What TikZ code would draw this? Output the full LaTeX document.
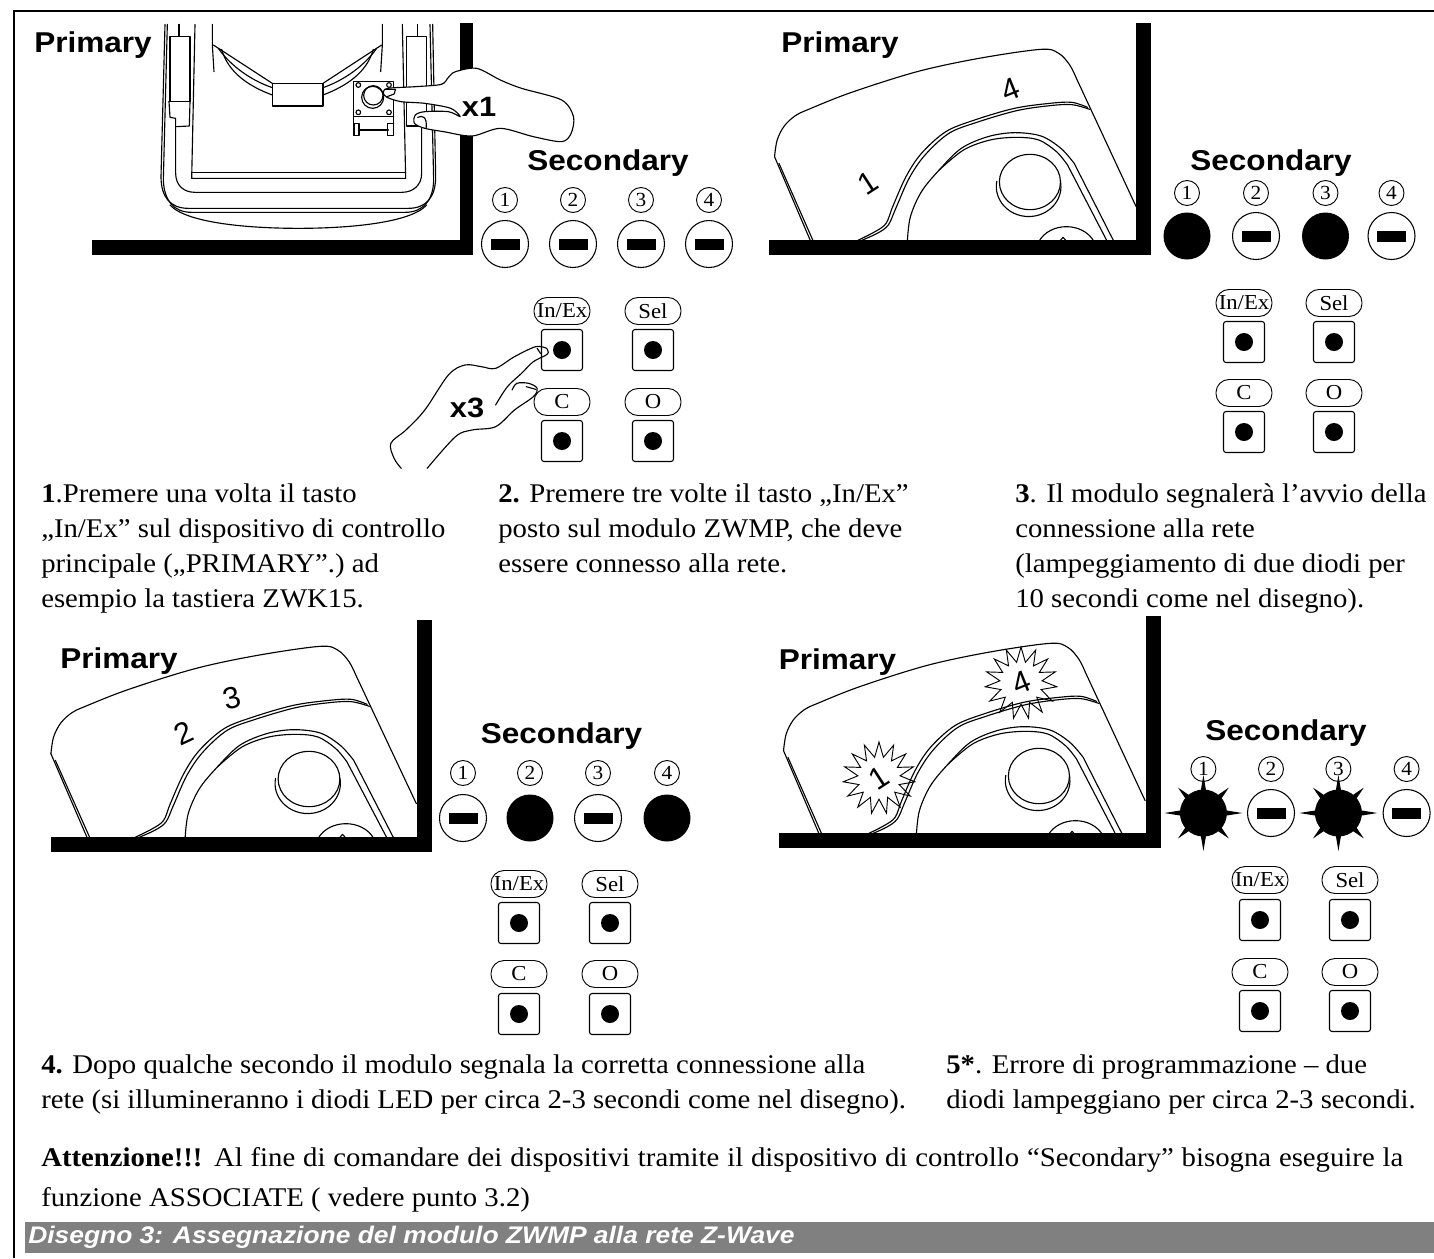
\documentclass[tikz,border=0pt]{standalone}
\usepackage{fontspec}
\setmainfont[FakeStretch=1.065]{Liberation Serif}
\setsansfont[FakeStretch=1.1]{Liberation Sans}
\newfontfamily\digitfont{Liberation Sans}
\usetikzlibrary{shapes.geometric,shapes.misc}
\def\px{.75pt}
\tikzset{
  ink/.style={draw=black,line width=.85pt,line join=round,line cap=round},
  blackbar/.style={fill=black,draw=none},
  ledoff/.style={circle,draw=black,line width=.8pt,minimum size=47*\px,inner sep=0pt},
  ledon/.style={circle,fill=black,minimum size=47*\px,inner sep=0pt},
  dash mark/.style={fill=black,draw=none,minimum width=29*\px,minimum height=11*\px,inner sep=0pt},
  numc/.style={circle,draw=black,line width=.7pt,minimum size=25*\px,inner sep=0pt,font=\fontsize{15pt}{15pt}\selectfont},
  lab/.style={draw=black,line width=.7pt,rounded corners=13*\px,minimum width=56*\px,minimum height=27*\px,inner sep=0pt,font=\fontsize{16pt}{16pt}\selectfont},
  padbox/.style={draw=black,line width=.8pt,rounded corners=2.5*\px,minimum size=41*\px,inner sep=0pt},
  paddot/.style={circle,fill=black,minimum size=18*\px,inner sep=0pt},
  head/.style={font=\sffamily\bfseries\fontsize{21.5pt}{21.5pt}\selectfont,inner sep=0pt},
  times/.style={font=\sffamily\bfseries\fontsize{21pt}{21pt}\selectfont,inner sep=0pt},
  digit/.style={font=\digitfont\fontsize{23pt}{23pt}\selectfont,inner sep=0pt},
  body/.style={font=\fontsize{20.25pt}{26.25pt}\selectfont,inner sep=0pt,anchor=base west,align=left},
  burst/.style={star,star points=15,star point ratio=1.7,draw=black,line width=.7pt,minimum size=72*\px,inner sep=0pt},
}
\newcommand{\keypad}[7]{%
  \node[lab] (#1la) at (#2,#4) {In/Ex};
  \node[lab] (#1lb) at (#3,#4) {Sel};
  \node[lab] (#1lc) at (#2,#6) {C};
  \node[lab] (#1ld) at (#3,#6) {O};
  \node[padbox] (#1pa) at (#2,#5) {};
  \node[padbox] (#1pb) at (#3,#5) {};
  \node[padbox] (#1pc) at (#2,#7) {};
  \node[padbox] (#1pd) at (#3,#7) {};
  \node[paddot] (#1da) at (#2,#5) {};
  \node[paddot] (#1db) at (#3,#5) {};
  \node[paddot] (#1dc) at (#2,#7) {};
  \node[paddot] (#1dd) at (#3,#7) {};
}
\newcommand{\offled}[3]{\node[ledoff] (#1) at (#2,#3) {}; \node[dash mark] (#1m) at (#2,#3) {};}
\newcommand{\onled}[3]{\node[ledon] (#1) at (#2,#3) {};}
\newcommand{\spikes}[1]{%
  \begin{scope}[shift={(#1.center)}]
    \foreach \a/\r in {0/39,45/36,90/38,135/36,180/39,225/36,270/38,315/36}
      \fill[black] (\a+8:21) -- (\a:\r) -- (\a-8:21) -- cycle;
  \end{scope}}
\newcommand{\housing}[3]{%
\begin{scope}[shift={(#1,#2)},x=#3,y=-.25pt]
  \draw[ink] plot[smooth,tension=.55] coordinates {(78,470)(84,420)(100,378)(125,347)(155,328)(250,278)(400,215)(540,175)(680,148)(720,160)(745,195)(760,235)} -- (895,620);
  \draw[ink] (78,470) -- (160,725);
  \draw[ink] (88,490) -- (166,725);
  \draw[ink] plot[smooth,tension=.55] coordinates {(260,725)(305,695)(330,670)(345,620)(375,530)(410,460)(465,395)(530,360)(620,325)(700,310)(750,307)(785,322)};
  \draw[ink] plot[smooth,tension=.55] coordinates {(268,725)(310,700)(335,675)(352,625)(382,535)(418,465)(472,400)(535,367)(625,332)(700,317)(750,314)(790,328)};
  \draw[ink] plot[smooth,tension=.55] coordinates {(378,725)(385,650)(410,575)(450,510)(500,445)(560,410)(620,398)(680,408)(725,445)(755,490)} -- (845,725);
  \draw[ink] plot[smooth,tension=.55] coordinates {(450,510)(505,450)(565,420)(625,412)(675,420)(715,455)(740,495)} -- (830,725);
  \draw[ink] (655,546) circle[x radius=69,y radius=83];
  \draw[ink] (724,544) arc[start angle=-10,end angle=190,x radius=73,y radius=90];
  \draw[ink] (675,725) .. controls (700,665) and (775,665) .. (800,725);
  \draw[ink] (722,724) -- (730,712) -- (738,724);
\end{scope}}
\begin{document}
\begin{tikzpicture}[x=.75pt,y=-.75pt]
\useasboundingbox (0,0) rectangle (1434,1258);
\fill[white] (0,0) rectangle (1434,1258);
\draw[black,line width=.9pt] (1434,11) -- (14,11) -- (14,1258);

% ---------- panel 1 device
\begin{scope}[shift={(150,20)},x=.25pt,y=-.25pt]
  \draw[ink] (45,13) -- (33,470) .. controls (33,530) and (60,565) .. (115,565) -- (775,565) .. controls (830,565) and (857,530) .. (857,470) -- (848,13);
  \draw[ink] (52,13) -- (40,480) .. controls (42,540) and (70,577) .. (125,577) -- (765,577) .. controls (820,577) and (850,540) .. (851,480) -- (840,13);
  \draw[ink] (60,555) .. controls (110,610) and (300,625) .. (445,625) .. controls (590,625) and (780,610) .. (830,555);
  \draw[ink] (135,13) -- (125,475) -- (767,475) -- (757,13);
  \draw[ink] (125,458) -- (767,458);
  \draw[ink] (77,320) -- (77,460) .. controls (77,495) and (100,517) .. (135,517) -- (755,517) .. controls (790,517) and (815,495) .. (815,460) -- (815,320);
  \draw[ink] (60,50) rectangle (120,245);
  \draw[ink] (87,13) -- (87,50);
  \draw[ink] (57,245) -- (115,245);
  \draw[ink] (57,245) -- (60,292) -- (77,295) -- (77,320) -- (118,318) -- (120,245);
  \draw[ink] (770,50) rectangle (830,318);
  \draw[ink] (803,13) -- (803,50);
  \draw[ink] (187,13) -- (187,75) -- (192,155);
  \draw[ink] (697,13) -- (697,75) -- (692,155);
  \draw[ink] (190,75) -- (367,190);
  \draw[ink] (205,85) .. controls (240,135) and (300,180) .. (367,203);
  \draw[ink] (215,88) .. controls (235,160) and (300,200) .. (367,225);
  \draw[ink] (695,75) -- (519,190);
  \draw[ink] (680,85) .. controls (645,135) and (585,180) .. (519,203);
  \draw[ink] (670,88) .. controls (650,160) and (585,200) .. (519,225);
  \draw[ink] (367,190) rectangle (519,258);
  \draw[ink] (610,185) rectangle (730,290);
  \draw[ink] (670,226) circle[radius=29];
  \draw[ink] (668,232) circle[radius=33];
  \foreach \cx/\cy in {625/195,717/195,625/277,717/277} \draw[ink] (\cx,\cy) circle[radius=7];
  \draw[ink] (610,290) -- (610,345);
  \draw[ink] (730,290) -- (730,345);
  \draw[ink] (625,330) -- (715,330);
  \draw[ink] (612,310) rectangle (627,347);
  \draw[ink] (713,310) rectangle (730,347);
\end{scope}
\fill[blackbar] (460,23) rectangle (473,255);
\fill[blackbar] (92,240) rectangle (473,255);

\begin{scope}[x=.354pt,y=-.25pt]
  \draw[ink,fill=white] plot[smooth cycle,tension=.5] coordinates {(812,278)(822,265)(880,260)(935,253)(950,232)(965,215)(1010,205)(1060,240)(1105,265)(1190,300)(1215,350)(1210,400)(1190,425)(1130,410)(1060,385)(1000,408)(940,395)(900,385)(878,370)(880,345)(900,335)(950,335)(975,350)(955,325)(900,310)(850,305)(820,292)};
  \draw[ink] (815,268) -- (838,268) -- (835,282) -- (820,290);
  \draw[ink] (885,352) .. controls (895,345) and (905,350) .. (903,383);
  \draw[ink] plot[smooth,tension=.55] coordinates {(1158,1045)(1135,1040)(1090,1070)(1050,1105)(1020,1100)(985,1095)(950,1125)(900,1230)(860,1290)(828,1330)(835,1375)(850,1405)};
  \draw[ink] plot[smooth,tension=.55] coordinates {(1158,1045)(1160,1062)(1130,1085)(1105,1120)(1075,1160)(1050,1215)};
  \draw[ink] plot[smooth,tension=.55] coordinates {(1085,1170)(1095,1150)(1120,1150)(1138,1165)(1130,1190)(1090,1230)(1050,1280)(1000,1290)(965,1310)(905,1405)};
  \draw[ink] (1138,1045) -- (1145,1060);
  \draw[ink] (1115,1160) -- (1135,1168);
\end{scope}
\node[times] (xone) at (479,107) {x1};
\node[times] (xthree) at (467,408) {x3};

\node[head,anchor=base west] (prim1) at (34,52) {Primary};
\node[head,anchor=base] (sec1) at (608,170) {Secondary};
\offled{a1}{505}{244}\offled{a2}{573}{244}\offled{a3}{641}{244}\offled{a4}{709}{244}
\node[numc] (an1) at (505,200) {1};
\node[numc] (an2) at (573,200) {2};
\node[numc] (an3) at (641,200) {3};
\node[numc] (an4) at (709,200) {4};
\keypad{a}{562}{653}{311}{350}{402}{441}

% ---------- panel 2
\housing{740}{0}{.33195pt}
\fill[blackbar] (1136,23) rectangle (1151,255);
\fill[blackbar] (769,240) rectangle (1151,255);
\node[digit,rotate=22] (bd4) at (1010,90) {4};
\node[digit,rotate=33] (bd1) at (868,183) {1};
\node[head,anchor=base west] (prim2) at (781,52) {Primary};
\node[head,anchor=base] (sec2) at (1271,170) {Secondary};
\onled{b1}{1187}{236}\offled{b2}{1256}{236}\onled{b3}{1325.5}{236}\offled{b4}{1391.5}{236}
\node[numc] (bn1) at (1187,193) {1};
\node[numc] (bn2) at (1256,193) {2};
\node[numc] (bn3) at (1325.5,193) {3};
\node[numc] (bn4) at (1391.5,193) {4};
\keypad{b}{1244}{1334}{303}{342}{393}{432}

% ---------- panel 3
\housing{16}{597}{.3355pt}
\fill[blackbar] (417,620) rectangle (432,852);
\fill[blackbar] (50.5,837) rectangle (432,852);
\node[digit,rotate=25] (cd2) at (184,733) {2};
\node[digit,rotate=15] (cd3) at (232,698) {3};
\node[head,anchor=base west] (prim3) at (60,668) {Primary};
\node[head,anchor=base] (sec3) at (561.5,743) {Secondary};
\offled{c1}{463}{818}\onled{c2}{530}{818}\offled{c3}{598}{818}\onled{c4}{667}{818}
\node[numc] (cn1) at (463,773) {1};
\node[numc] (cn2) at (530,773) {2};
\node[numc] (cn3) at (598,773) {3};
\node[numc] (cn4) at (667,773) {4};
\keypad{c}{519}{610}{884}{923}{974}{1014}

% ---------- panel 4
\housing{749}{594}{.33195pt}
\fill[blackbar] (1146,616) rectangle (1160.5,848);
\fill[blackbar] (779,833) rectangle (1160.5,848);
\node[burst] (ds4) at (1021,683) {};
\node[burst] (ds1) at (879,778) {};
\node[digit,rotate=22] (dd4) at (1021,683) {4};
\node[digit,rotate=33] (dd1) at (879,778) {1};
\node[head,anchor=base west] (prim4) at (778.5,669) {Primary};
\node[head,anchor=base] (sec4) at (1286,740) {Secondary};
\onled{d1}{1203.4}{813}\offled{d2}{1271}{813}\onled{d3}{1338.4}{813}\offled{d4}{1406.6}{813}
\spikes{d1}
\spikes{d3}
\node[numc] (dn1) at (1203.4,769) {1};
\node[numc] (dn2) at (1271,769) {2};
\node[numc] (dn3) at (1338.4,769) {3};
\node[numc] (dn4) at (1406.6,769) {4};
\keypad{d}{1260}{1350}{880}{920}{972}{1011}

% ---------- texts
\node[body] (t1) at (41,607) {\textbf{1}.Premere una volta il tasto\\„In/Ex” sul dispositivo di controllo\\principale („PRIMARY”.) ad\\esempio la tastiera ZWK15.};
\node[body] (t2) at (498,572) {\textbf{2.} Premere tre volte il tasto „In/Ex”\\posto sul modulo ZWMP, che deve\\essere connesso alla rete.};
\node[body] (t3) at (1015,607) {\textbf{3}. Il modulo segnalerà l'avvio della\\connessione alla rete\\(lampeggiamento di due diodi per\\10 secondi come nel disegno).};
\node[body] (t4) at (41,1108) {\textbf{4.} Dopo qualche secondo il modulo segnala la corretta connessione alla\\rete (si illumineranno i diodi LED per circa 2-3 secondi come nel disegno).};
\node[body] (t5) at (946,1108) {\textbf{5*}. Errore di programmazione – due\\diodi lampeggiano per circa 2-3 secondi.};
\node[font=\fontsize{20.25pt}{30pt}\selectfont,inner sep=0pt,anchor=north west,text width=1362*\px,align=justify] (t6) at (41,1147) {\textbf{Attenzione!!!} Al fine di comandare dei dispositivi tramite il dispositivo di controllo “Secondary” bisogna eseguire la funzione ASSOCIATE ( vedere punto 3.2)};
\fill[black!50] (25,1222) rectangle (1434,1253);
\node[anchor=base west,inner sep=0pt,text=white,font=\sffamily\bfseries\itshape\fontsize{18pt}{18pt}\selectfont] (cap) at (28,1243) {Disegno 3: Assegnazione del modulo ZWMP alla rete Z-Wave};
\end{tikzpicture}
\end{document}
